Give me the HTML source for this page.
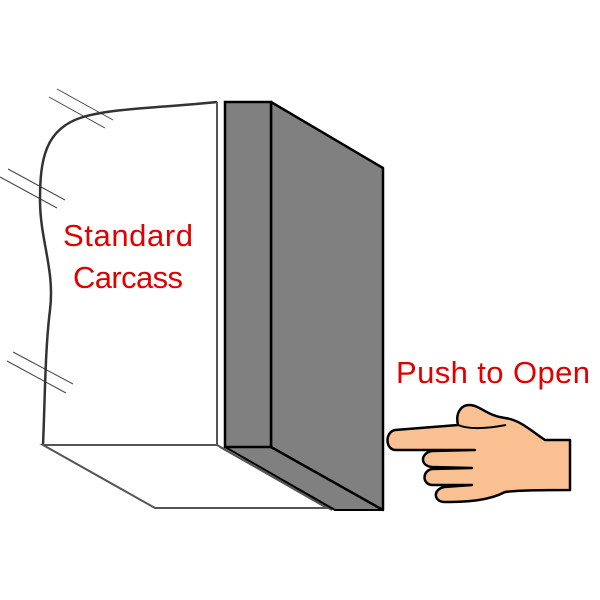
<!DOCTYPE html>
<html><head><style>body{margin:0;background:#fff}svg{display:block}</style></head><body>
<svg width="600" height="600" viewBox="0 0 600 600" xmlns="http://www.w3.org/2000/svg">
<g stroke="#444" stroke-width="1">
<line x1="57" y1="89" x2="113" y2="120"/><line x1="49" y1="97" x2="105" y2="128"/>
<line x1="8" y1="169" x2="65" y2="200"/><line x1="0" y1="177" x2="57" y2="208"/>
<line x1="13" y1="352" x2="73" y2="384"/><line x1="7" y1="361" x2="66" y2="393"/>
</g>
<path d="M217,102 C160,108 110,108 80,118 C45,130 40,160 40,200 C40,240 55,270 50,310 C45,350 45,400 43,445" fill="none" stroke="#333" stroke-width="2.5"/>
<line x1="217" y1="102" x2="217" y2="445" stroke="#555" stroke-width="2"/>
<polygon points="43,445 217,445 327,508 155,508" fill="#fff" stroke="#555" stroke-width="2"/>
<line x1="220" y1="447" x2="332" y2="510" stroke="#555" stroke-width="2"/>
<polygon points="225,447 271,447 383,510 335,510" fill="#808080" stroke="#000" stroke-width="2" stroke-linejoin="round"/>
<polygon points="271,102 383,168 383,510 271,447" fill="#808080" stroke="#000" stroke-width="2.5" stroke-linejoin="round"/>
<rect x="225" y="102" width="46" height="345" fill="#808080" stroke="#000" stroke-width="2.5"/>
<g font-family="Liberation Sans, sans-serif" font-size="31" fill="#e00000">
<text x="128" y="246" text-anchor="middle" textLength="130">Standard</text>
<text x="128" y="288" text-anchor="middle" textLength="110">Carcass</text>
<text x="493" y="383" text-anchor="middle" textLength="194">Push to Open</text>
</g>
<g stroke="#000" stroke-width="2.5" fill="#f9c192" stroke-linejoin="round">
<path d="M570,440 L545,440 C530,430 520,420 505,418 C490,416 485,410 475,406 C462,402 455,412 458,425 L395,430 C385,432 385,449 395,450 L475,450 L432,451 C420,453 420,466 432,467 L472,468 L432,469 C422,471 422,484 432,485 L472,485 L444,487 C432,490 434,502 445,502 C470,502 490,500 505,492 C520,490 550,490 570,490 Z"/>
</g>
<path d="M458,425 C470,430 490,428 506,425" stroke="#000" stroke-width="2" fill="none"/>
</svg>
</body></html>
